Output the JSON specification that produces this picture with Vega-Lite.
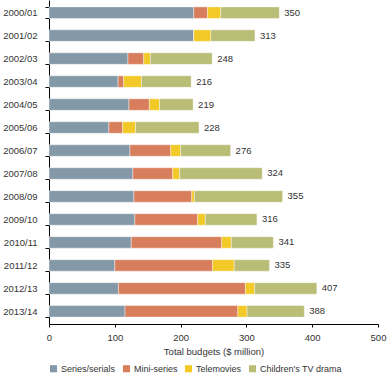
{
  "$schema": "https://vega.github.io/schema/vega-lite/v6.json",
  "width": 329,
  "height": 324,
  "autosize": {"type": "none"},
  "padding": {"left": 49, "top": 0, "right": 9, "bottom": 52},
  "background": "white",
  "config": {
    "font": "Liberation Sans",
    "view": {"stroke": null},
    "axis": {"labelColor": "#333333", "titleColor": "#333333", "domainColor": "#000000", "tickColor": "#000000", "labelFontSize": 9.5, "titleFontSize": 9.5, "titleFontWeight": "normal", "grid": false},
    "legend": {"labelColor": "#333333", "labelFontSize": 9}
  },
  "datasets": {
    "segments": [
      {"year": "2000/01", "k": 1, "type": "Series/serials", "value": 220},
      {"year": "2000/01", "k": 2, "type": "Mini-series", "value": 21},
      {"year": "2000/01", "k": 3, "type": "Telemovies", "value": 20},
      {"year": "2000/01", "k": 4, "type": "Children's TV drama", "value": 89},
      {"year": "2001/02", "k": 1, "type": "Series/serials", "value": 220},
      {"year": "2001/02", "k": 2, "type": "Mini-series", "value": 0},
      {"year": "2001/02", "k": 3, "type": "Telemovies", "value": 26},
      {"year": "2001/02", "k": 4, "type": "Children's TV drama", "value": 67},
      {"year": "2002/03", "k": 1, "type": "Series/serials", "value": 120},
      {"year": "2002/03", "k": 2, "type": "Mini-series", "value": 24},
      {"year": "2002/03", "k": 3, "type": "Telemovies", "value": 10},
      {"year": "2002/03", "k": 4, "type": "Children's TV drama", "value": 94},
      {"year": "2003/04", "k": 1, "type": "Series/serials", "value": 105},
      {"year": "2003/04", "k": 2, "type": "Mini-series", "value": 8.5},
      {"year": "2003/04", "k": 3, "type": "Telemovies", "value": 27},
      {"year": "2003/04", "k": 4, "type": "Children's TV drama", "value": 75.5},
      {"year": "2004/05", "k": 1, "type": "Series/serials", "value": 121.5},
      {"year": "2004/05", "k": 2, "type": "Mini-series", "value": 31},
      {"year": "2004/05", "k": 3, "type": "Telemovies", "value": 15.5},
      {"year": "2004/05", "k": 4, "type": "Children's TV drama", "value": 51},
      {"year": "2005/06", "k": 1, "type": "Series/serials", "value": 91},
      {"year": "2005/06", "k": 2, "type": "Mini-series", "value": 21},
      {"year": "2005/06", "k": 3, "type": "Telemovies", "value": 19.5},
      {"year": "2005/06", "k": 4, "type": "Children's TV drama", "value": 96.5},
      {"year": "2006/07", "k": 1, "type": "Series/serials", "value": 123},
      {"year": "2006/07", "k": 2, "type": "Mini-series", "value": 62},
      {"year": "2006/07", "k": 3, "type": "Telemovies", "value": 15},
      {"year": "2006/07", "k": 4, "type": "Children's TV drama", "value": 76},
      {"year": "2007/08", "k": 1, "type": "Series/serials", "value": 127.5},
      {"year": "2007/08", "k": 2, "type": "Mini-series", "value": 60.5},
      {"year": "2007/08", "k": 3, "type": "Telemovies", "value": 10.5},
      {"year": "2007/08", "k": 4, "type": "Children's TV drama", "value": 125.5},
      {"year": "2008/09", "k": 1, "type": "Series/serials", "value": 129},
      {"year": "2008/09", "k": 2, "type": "Mini-series", "value": 88},
      {"year": "2008/09", "k": 3, "type": "Telemovies", "value": 4},
      {"year": "2008/09", "k": 4, "type": "Children's TV drama", "value": 134},
      {"year": "2009/10", "k": 1, "type": "Series/serials", "value": 130.5},
      {"year": "2009/10", "k": 2, "type": "Mini-series", "value": 95.5},
      {"year": "2009/10", "k": 3, "type": "Telemovies", "value": 11.5},
      {"year": "2009/10", "k": 4, "type": "Children's TV drama", "value": 78.5},
      {"year": "2010/11", "k": 1, "type": "Series/serials", "value": 125},
      {"year": "2010/11", "k": 2, "type": "Mini-series", "value": 137.5},
      {"year": "2010/11", "k": 3, "type": "Telemovies", "value": 14.5},
      {"year": "2010/11", "k": 4, "type": "Children's TV drama", "value": 64},
      {"year": "2011/12", "k": 1, "type": "Series/serials", "value": 100},
      {"year": "2011/12", "k": 2, "type": "Mini-series", "value": 148.5},
      {"year": "2011/12", "k": 3, "type": "Telemovies", "value": 33},
      {"year": "2011/12", "k": 4, "type": "Children's TV drama", "value": 53.5},
      {"year": "2012/13", "k": 1, "type": "Series/serials", "value": 105.5},
      {"year": "2012/13", "k": 2, "type": "Mini-series", "value": 193},
      {"year": "2012/13", "k": 3, "type": "Telemovies", "value": 14},
      {"year": "2012/13", "k": 4, "type": "Children's TV drama", "value": 94.5},
      {"year": "2013/14", "k": 1, "type": "Series/serials", "value": 115.5},
      {"year": "2013/14", "k": 2, "type": "Mini-series", "value": 171.5},
      {"year": "2013/14", "k": 3, "type": "Telemovies", "value": 14},
      {"year": "2013/14", "k": 4, "type": "Children's TV drama", "value": 87}
    ],
    "totals": [
      {"year": "2000/01", "total": 350},
      {"year": "2001/02", "total": 313},
      {"year": "2002/03", "total": 248},
      {"year": "2003/04", "total": 216},
      {"year": "2004/05", "total": 219},
      {"year": "2005/06", "total": 228},
      {"year": "2006/07", "total": 276},
      {"year": "2007/08", "total": 324},
      {"year": "2008/09", "total": 355},
      {"year": "2009/10", "total": 316},
      {"year": "2010/11", "total": 341},
      {"year": "2011/12", "total": 335},
      {"year": "2012/13", "total": 407},
      {"year": "2013/14", "total": 388}
    ]
  },
  "layer": [
    {
      "data": {"name": "segments"},
      "mark": {"type": "bar", "stroke": "#ffffff", "strokeWidth": 0.4},
      "encoding": {
        "y": {
          "field": "year", "type": "nominal", "sort": null,
          "scale": {"paddingInner": 0.5, "paddingOuter": 0.3, "align": 0.5},
          "axis": {"title": null, "tickBand": "extent", "tickSize": 4, "labelPadding": 8, "domainWidth": 1}
        },
        "x": {
          "field": "value", "type": "quantitative", "stack": "zero",
          "scale": {"domain": [0, 500], "nice": false},
          "axis": {"title": "Total budgets ($ million)", "values": [0, 100, 200, 300, 400, 500], "tickSize": 3, "labelPadding": 5, "titlePadding": 5, "labelFlush": false}
        },
        "order": {"field": "k", "type": "quantitative", "sort": "ascending"},
        "color": {
          "field": "type", "type": "nominal",
          "sort": ["Series/serials", "Mini-series", "Telemovies", "Children's TV drama"],
          "scale": {"domain": ["Series/serials", "Mini-series", "Telemovies", "Children's TV drama"], "range": ["#8499a8", "#d97e5c", "#f2c926", "#b9bd76"]},
          "legend": {"title": null, "orient": "bottom", "direction": "horizontal", "symbolType": "square", "symbolSize": 50, "symbolStrokeWidth": 0, "columnPadding": 6, "labelOffset": 3, "offset": 8}
        }
      }
    },
    {
      "data": {"name": "totals"},
      "mark": {"type": "text", "align": "left", "baseline": "middle", "dx": 5, "fontSize": 9.5, "color": "#333333"},
      "encoding": {
        "y": {"field": "year", "type": "nominal", "sort": null},
        "x": {"field": "total", "type": "quantitative"},
        "text": {"field": "total", "type": "quantitative"}
      }
    }
  ]
}
